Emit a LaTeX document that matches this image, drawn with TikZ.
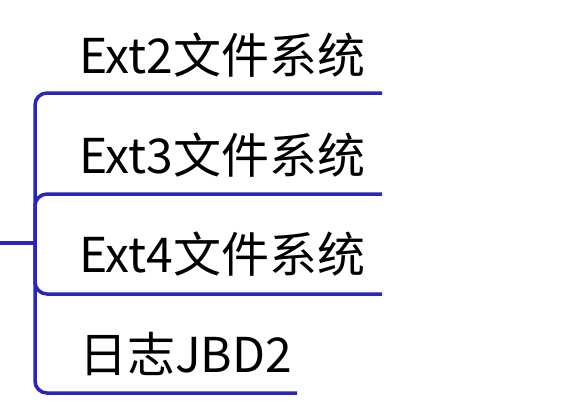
\documentclass[tikz,border=0pt]{standalone}
\usepackage{fontspec}
\setmainfont{Noto Sans CJK SC}
\definecolor{branchblue}{RGB}{42,38,185}
\begin{document}
\begin{tikzpicture}[x=1pt, y=-1pt,
        branch/.style={draw=branchblue, line width=3.5pt, rounded corners=12pt},
        leaf/.style={anchor=base west, inner sep=0pt, font=\fontsize{48}{48}\selectfont}]
            \useasboundingbox (0, 0) rectangle (570, 416);
            %% Anchors
            \coordinate (root) at (0, 243);
            \coordinate (hub) at (35, 243);
            \coordinate (ext2end) at (382, 93);
            \coordinate (ext3end) at (382, 194);
            \coordinate (ext4end) at (382, 294);
            \coordinate (jbdend) at (297, 393);
            %% Text Nodes
            \node[leaf] at (79, 73) (ext2txt) {Ext2文件系统};
            \node[leaf] at (79, 173) (ext3txt) {Ext3文件系统};
            \node[leaf] at (79, 272) (ext4txt) {Ext4文件系统};
            \node[leaf] at (79, 372) (jbdtxt) {日志JBD2};
            %% Branches
            \draw[branch] (root) -- (hub);
            \draw[branch] (hub) |- (ext2end);
            \draw[branch] (hub) |- (ext3end);
            \draw[branch] (hub) |- (ext4end);
            \draw[branch] (hub) |- (jbdend);
    \end{tikzpicture}
\end{document}
